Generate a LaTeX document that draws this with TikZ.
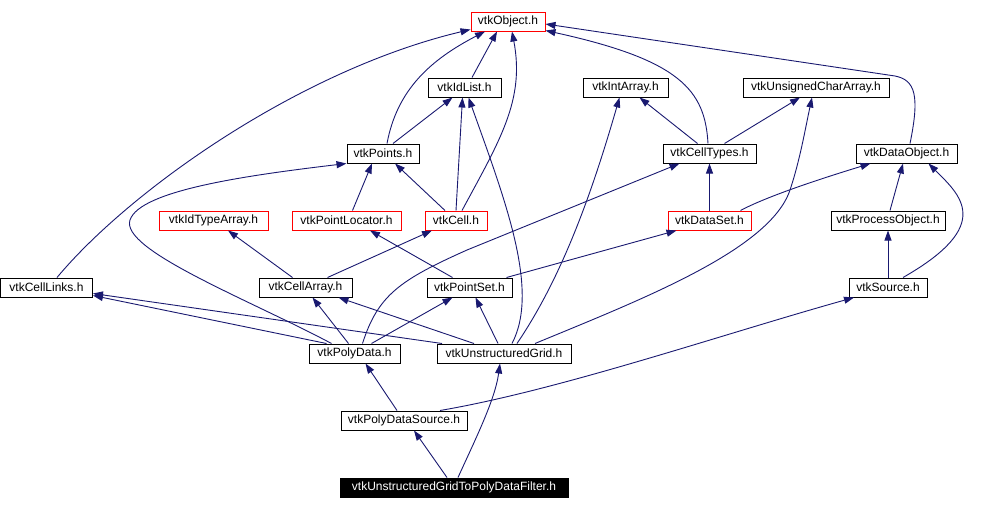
\documentclass[tikz,border=0pt]{standalone}
\usepackage{fontspec}
\setmainfont{Liberation Sans}
\usetikzlibrary{arrows.meta}
\definecolor{edgeblue}{RGB}{25,25,112}

\begin{document}
\begin{tikzpicture}[x=1pt, y=-1pt,
  hdr/.style={draw=black, line width=1pt, inner sep=0pt, minimum height=19pt, font=\fontsize{12}{14}\selectfont},
  redhdr/.style={hdr, draw=red},
  cur/.style={hdr, fill=black, text=white},
  dep/.style={draw=edgeblue, line width=0.9pt, -{Triangle[length=10pt,width=7pt]}}]
  \useasboundingbox (0,0) rectangle (998,509);
  \node[redhdr, minimum width=74pt] (obj) at (508,21.5) {vtkObject.h};
  \node[hdr, minimum width=73pt] (idlist) at (464.5,87.5) {vtkIdList.h};
  \node[hdr, minimum width=85pt] (intarr) at (625.5,87.5) {vtkIntArray.h};
  \node[hdr, minimum width=146pt] (ucarr) at (816,87.5) {vtkUnsignedCharArray.h};
  \node[hdr, minimum width=72pt] (points) at (383,153.5) {vtkPoints.h};
  \node[hdr, minimum width=93pt] (celltypes) at (709.5,153.5) {vtkCellTypes.h};
  \node[hdr, minimum width=101pt] (dataobj) at (906.5,153.5) {vtkDataObject.h};
  \node[redhdr, minimum width=109pt] (idtype) at (213.5,220.5) {vtkIdTypeArray.h};
  \node[redhdr, minimum width=109pt] (ptloc) at (346.5,220.5) {vtkPointLocator.h};
  \node[redhdr, minimum width=62pt] (cell) at (456,220.5) {vtkCell.h};
  \node[redhdr, minimum width=83pt] (dataset) at (709.5,220.5) {vtkDataSet.h};
  \node[hdr, minimum width=114pt] (procobj) at (888,220.5) {vtkProcessObject.h};
  \node[hdr, minimum width=92pt] (celllinks) at (46.5,287.5) {vtkCellLinks.h};
  \node[hdr, minimum width=93pt] (cellarray) at (305.5,287.5) {vtkCellArray.h};
  \node[hdr, minimum width=85pt] (pointset) at (469.5,287.5) {vtkPointSet.h};
  \node[hdr, minimum width=78pt] (source) at (888,287.5) {vtkSource.h};
  \node[hdr, minimum width=91pt] (polydata) at (354.5,353.5) {vtkPolyData.h};
  \node[hdr, minimum width=134pt] (ugrid) at (504,353.5) {vtkUnstructuredGrid.h};
  \node[hdr, minimum width=126pt] (pds) at (404,420.5) {vtkPolyDataSource.h};
  \node[cur, minimum width=228pt] (filter) at (454,487.5) {vtkUnstructuredGridToPolyDataFilter.h};
  \draw[dep] ([xshift=10.5pt]celllinks.north) .. controls (130,190) and (300,70) .. ([yshift=2pt]obj.south west);
  \draw[dep] ([xshift=4pt]points.north) .. controls (397,90) and (430,60) .. ([xshift=-23pt]obj.south);
  \draw[dep] ([xshift=7.5pt]idlist.north) -- ([xshift=-11pt]obj.south);
  \draw[dep] ([xshift=6pt]cell.north) .. controls (500,140) and (525,100) .. ([xshift=4pt]obj.south);
  \draw[dep] ([xshift=-1.5pt]celltypes.north) .. controls (705,90) and (680,60) .. ([yshift=1pt]obj.south east);
  \draw[dep] ([xshift=3.5pt]dataobj.north) .. controls (920,95) and (915,80) .. (895,76) -- ([yshift=-2.5pt]obj.east);
  \draw[dep] ([xshift=10pt]points.north) -- ([xshift=-12pt]idlist.south);
  \draw[dep] (cell.north) -- ([xshift=-2pt]idlist.south);
  \draw[dep] ([xshift=8pt]ugrid.north) .. controls (540,290) and (505,200) .. ([xshift=4pt]idlist.south);
  \draw[dep] ([xshift=-12pt]celltypes.north) -- ([xshift=14pt]intarr.south);
  \draw[dep] ([xshift=13pt]ugrid.north) .. controls (560,280) and (590,200) .. ([xshift=-6pt]intarr.south);
  \draw[dep] ([xshift=15pt]celltypes.north) -- ([xshift=-16pt]ucarr.south);
  \draw[dep] ([xshift=31pt]ugrid.north) .. controls (640,300) and (770,250) .. (790,190) .. controls (800,160) and (805,130) .. ([xshift=-4pt]ucarr.south);
  \draw[dep] ([xshift=6pt]ptloc.north) -- ([xshift=-11pt]points.south);
  \draw[dep] ([xshift=-11pt]cell.north) -- ([xshift=12pt]points.south);
  \draw[dep] ([xshift=-23pt]polydata.north) .. controls (250,300) and (120,250) .. (130,220) .. controls (140,190) and (250,175) .. (points.south west);
  \draw[dep] (dataset.north) -- (celltypes.south);
  \draw[dep] ([xshift=8pt]polydata.north) .. controls (378,295) and (400,280) .. (467,250) -- ([xshift=-30pt]celltypes.south);
  \draw[dep] ([xshift=31pt]dataset.north) .. controls (760,200) and (800,185) .. ([xshift=-36pt]dataobj.south);
  \draw[dep] ([xshift=2pt]procobj.north) -- ([xshift=-3.5pt]dataobj.south);
  \draw[dep] ([xshift=15pt]source.north) .. controls (995,225) and (960,195) .. ([xshift=22pt]dataobj.south);
  \draw[dep] ([xshift=-13pt]cellarray.north) -- ([xshift=14.5pt]idtype.south);
  \draw[dep] ([xshift=-17pt]pointset.north) -- ([xshift=23.5pt]ptloc.south);
  \draw[dep] ([xshift=22pt]cellarray.north) -- ([xshift=-24pt]cell.south);
  \draw[dep] ([xshift=37pt]pointset.north) -- ([xshift=-33pt]dataset.south);
  \draw[dep] (source.north) -- (procobj.south);
  \draw[dep] ([xshift=-28pt]polydata.north) -- ([yshift=2pt]celllinks.south east);
  \draw[dep] ([xshift=-62pt]ugrid.north) -- ([yshift=-6pt]celllinks.east);
  \draw[dep] ([xshift=-6pt]polydata.north) -- ([xshift=7pt]cellarray.south);
  \draw[dep] ([xshift=-30pt]ugrid.north) -- ([xshift=33pt]cellarray.south);
  \draw[dep] ([xshift=17pt]polydata.north) -- ([xshift=-17pt]pointset.south);
  \draw[dep] ([xshift=-6pt]ugrid.north) -- ([xshift=6pt]pointset.south);
  \draw[dep] ([xshift=36pt]pds.north) .. controls (560,390) and (720,335) .. ([xshift=-34pt]source.south);
  \draw[dep] ([xshift=-7pt]pds.north) -- ([xshift=11pt]polydata.south);
  \draw[dep] ([xshift=-7pt]filter.north) -- ([xshift=10pt]pds.south);
  \draw[dep] ([xshift=4pt]filter.north) .. controls (475,440) and (495,400) .. ([xshift=-4pt]ugrid.south);
\end{tikzpicture}
\end{document}
